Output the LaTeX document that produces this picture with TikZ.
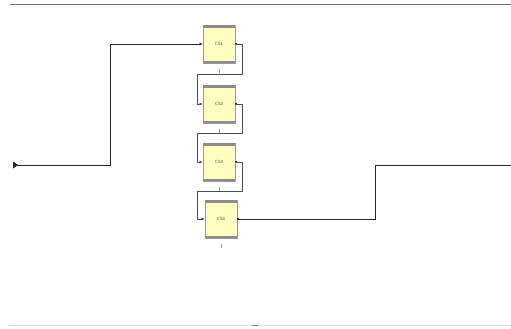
\documentclass[tikz,border=0pt]{standalone}
\usetikzlibrary{arrows.meta}
\definecolor{boxfill}{HTML}{FFFFC0}
\definecolor{boxedge}{HTML}{9A9A9A}
\definecolor{band}{HTML}{8C8C8C}
\tikzset{
  csbox/.style={draw=boxedge, line width=0.9pt, fill=boxfill, minimum width=32pt, minimum height=38pt,
    inner sep=0pt, font=\sffamily\fontsize{4.5}{5}\selectfont, text=black!75},
  mainline/.style={draw=black!85, line width=0.8pt},
  loopline/.style={draw=black!70, line width=0.8pt},
  intip/.style={-{Latex[length=3pt,width=3pt]}},
  ticklbl/.style={draw=black!40, line width=0.5pt}
}
\begin{document}
\begin{tikzpicture}[x=1pt,y=-1pt]
\useasboundingbox (0,0) rectangle (511,329);
% rules
\draw[black!55, line width=1pt] (10,5) -- (511,5);
\draw[black!15, line width=1pt] (10,325) -- (511,325);
\draw[black!50, line width=1pt] (252,325) -- (258,325);
% boxes
\foreach \n/\x/\y in {1/219/44, 2/219/104, 3/219/162, 4/221/219}{
  \node[csbox] (b\n) at (\x,\y) {CS\n};
  \fill[band] (b\n.north west) rectangle ([yshift=-3pt]b\n.north east);
  \fill[band] ([yshift=2pt]b\n.south west) rectangle (b\n.south east);
  \draw[ticklbl] ([yshift=-6pt]b\n.south) -- ([yshift=-10pt]b\n.south);
  \fill[black!80] ([xshift=0pt,yshift=-1.2pt]b\n.east) rectangle ([xshift=2pt,yshift=1.2pt]b\n.east);
}
% start and end
\coordinate (in) at (13,165);
\coordinate (out) at (511,165);
\draw[mainline, {Triangle[reversed,length=5pt,width=7pt]}-{Latex[length=3pt,width=3pt]}]
  (in) -- (110,165) |- (b1.west);
% loops between boxes
\draw[loopline, intip] (b1.east) -- ++(7,0) |- (197,74) |- (b2.west);
\draw[loopline, intip] (b2.east) -- ++(7,0) |- (197,133) |- (b3.west);
\draw[loopline, intip] (b3.east) -- ++(7,0) |- (197,191) |- (b4.west);
% output
\draw[mainline] (b4.east) -- (375,219) |- (out);
\end{tikzpicture}
\end{document}
